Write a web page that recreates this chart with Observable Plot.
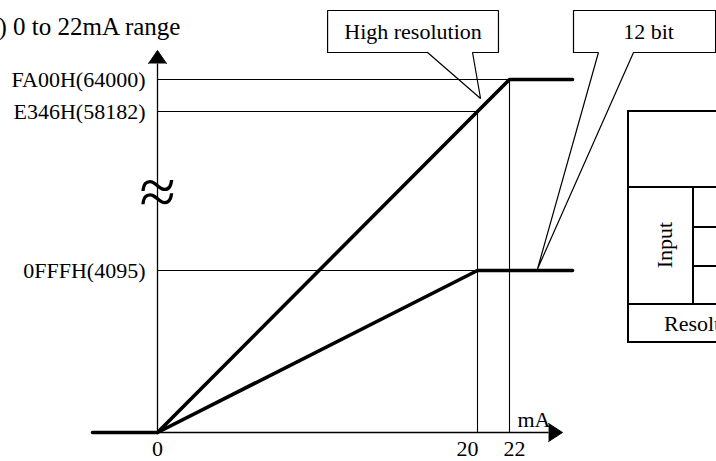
<!DOCTYPE html>
<html>
<head>
<meta charset="utf-8">
<script src="https://cdn.jsdelivr.net/npm/d3@7"></script>
<script src="https://cdn.jsdelivr.net/npm/@observablehq/plot@0.6"></script>
<style>
html,body{margin:0;padding:0;background:#fff;overflow:hidden;width:716px;height:461px}
#chart{position:absolute;left:0;top:0}
.ln{position:absolute;background:#000}
.t{position:absolute;font-family:"Liberation Serif",serif;font-size:22px;color:#000;white-space:nowrap;line-height:22px}
</style>
</head>
<body>
<div id="chart"></div>
<div id="table"></div>
<script>
// ---- data ----
const title = ") 0 to 22mA range";
const xUnit = "mA";
const xTicks = [0, 20, 22];
const xTickDx = [0, -10, 5];
const yLevels = [64000, 58182, 4095];
const yLabels = ["FA00H(64000)", "E346H(58182)", "0FFFH(4095)"];
const guideXEnd = [22, 20, 20];          // where each level's thin guide ends (mA)
const xExtent = [-4.06, 25.94];           // span of the drawn characteristic lines (mA)
// High resolution characteristic
const hiResX = [xExtent[0], 0, 20, 22, xExtent[1]];
const hiResY = [0, 0, 58182, 64000, 64000];
// 12 bit characteristic
const bit12X = [0, 20, xExtent[1]];
const bit12Y = [0, 4095, 4095];
// callouts
const calloutLabels = ["High resolution", "12 bit"];
const calloutBoxX = [[10.63, 21.31], [26.0, 34.88]];
const calloutBoxY = [68909, 76545];
const calloutBaseX = [[16.88, 19.69], [27.56, 29.75]];
const calloutTip = [[20.19, 60546], [23.75, 4600]];
const calloutTextX = [15.97, 30.69];
const calloutTextY = 72727;
const breakMarkY = 30600;
const arrowX = {base: 24.44, tip: 25.31, half: 230};
const arrowY = {base: 66909, tip: 69273, half: 0.56};
// broken value axis: value breakpoints and their relative heights
const yBreaks = [0, 4095, 58182, 64000];
const yBreakHeights = [0, 162, 321, 353];

// ---- build tables ----
const brokenAxis = d3.scaleLinear().domain(yBreaks).range(yBreakHeights);
const hiRes = hiResX.map((x, i) => ({x, y: hiResY[i]}));
const bit12 = bit12X.map((x, i) => ({x, y: bit12Y[i]}));
const guidesH = yLevels.map((y, i) => ({x1: 0, x2: guideXEnd[i], y1: y, y2: y}));
const guidesV = [
  {x1: 20, x2: 20, y1: 0, y2: 58182},
  {x1: 22, x2: 22, y1: 0, y2: 64000}
];
const axes = [
  {x1: 0, x2: arrowX.base, y1: 0, y2: 0},
  {x1: 0, x2: 0, y1: 0, y2: arrowY.base}
];
const arrows = [
  {id: "x", x: arrowX.base, y: arrowX.half}, {id: "x", x: arrowX.tip, y: 0}, {id: "x", x: arrowX.base, y: -arrowX.half},
  {id: "y", x: -arrowY.half, y: arrowY.base}, {id: "y", x: 0, y: arrowY.tip}, {id: "y", x: arrowY.half, y: arrowY.base}
];
const callouts = [];
calloutLabels.forEach((lab, i) => {
  const [l, r] = calloutBoxX[i], [bl, br] = calloutBaseX[i], [b, t] = calloutBoxY;
  const pts = [[l, b], [l, t], [r, t], [r, b], [br, b], calloutTip[i], [bl, b], [l, b]];
  pts.forEach(([x, y]) => callouts.push({id: lab, x, y}));
});
const yTickData = yLevels.map((v, i) => ({v, label: yLabels[i]}));
const calloutText = calloutLabels.map((lab, i) => ({lab, x: calloutTextX[i], y: calloutTextY}));

const font = "Liberation Serif";
const chart = Plot.plot({
  width: 716,
  height: 461,
  margin: 0,
  x: {domain: [0, 22], range: [157, 509], axis: null},
  y: {transform: brokenAxis, domain: [0, 353], range: [432, 79], axis: null},
  style: {fontFamily: font, background: "white", color: "black"},
  marks: [
    Plot.text(["≈"], {x: () => 0, y: () => breakMarkY, text: d => d, fontSize: 66, fontFamily: font, fill: "black"}),
    Plot.link(guidesH, {x1: "x1", x2: "x2", y1: "y1", y2: "y2", stroke: "black", strokeWidth: 1.1}),
    Plot.link(guidesV, {x1: "x1", x2: "x2", y1: "y1", y2: "y2", stroke: "black", strokeWidth: 1.1}),
    Plot.link(axes, {x1: "x1", x2: "x2", y1: "y1", y2: "y2", stroke: "black", strokeWidth: 1.3}),
    Plot.line(arrows, {x: "x", y: "y", z: "id", fill: "black", stroke: "black", strokeWidth: 1}),
    Plot.line(hiRes, {x: "x", y: "y", stroke: "black", strokeWidth: 3.6, strokeLinejoin: "miter"}),
    Plot.line(bit12, {x: "x", y: "y", stroke: "black", strokeWidth: 3.6, strokeLinejoin: "miter"}),
    Plot.line(callouts, {x: "x", y: "y", z: "id", fill: "none", stroke: "black", strokeWidth: 1.2, strokeLinejoin: "miter"}),
    Plot.text(calloutText, {x: "x", y: "y", text: "lab", fontSize: 22, fontFamily: font, fill: "black"}),
    Plot.text(yTickData, {x: () => 0, y: "v", text: "label", textAnchor: "end", dx: -12, fontSize: 22, fontFamily: font, fill: "black"}),
    ...xTicks.map((t, i) => Plot.text([t], {x: d => d, y: () => 0, text: d => String(d), dy: 16, dx: xTickDx[i], fontSize: 22, fontFamily: font, fill: "black"})),
    Plot.text([xUnit], {x: () => arrowX.tip, y: () => 0, text: d => d, textAnchor: "end", dx: -12, dy: -13, fontSize: 22, fontFamily: font, fill: "black"}),
    Plot.text([title], {frameAnchor: "top-left", textAnchor: "start", dx: -2, dy: 17, text: d => d, fontSize: 25, fontFamily: font, fill: "black"})
  ]
});
document.getElementById("chart").appendChild(chart);

// ---- side table (partly visible at the right edge) ----
const tableLines = [
  [627, 110, 200, 2], [627, 110, 2, 233], [627, 186, 200, 2], [627, 303, 200, 2], [627, 341, 200, 2],
  [692, 187, 2, 117], [693, 226, 100, 2], [693, 265, 100, 2]
];
const tbl = document.getElementById("table");
tableLines.forEach(([l, t, w, h]) => {
  const d = document.createElement("div");
  d.className = "ln";
  Object.assign(d.style, {left: l + "px", top: t + "px", width: w + "px", height: h + "px"});
  tbl.appendChild(d);
});
const inp = document.createElement("div");
inp.className = "t";
inp.textContent = "Input";
Object.assign(inp.style, {left: "665px", top: "245px", transform: "translate(-50%,-50%) rotate(-90deg)"});
tbl.appendChild(inp);
const res = document.createElement("div");
res.className = "t";
res.textContent = "Resolution";
Object.assign(res.style, {left: "664px", top: "313px"});
tbl.appendChild(res);
</script>
</body>
</html>
